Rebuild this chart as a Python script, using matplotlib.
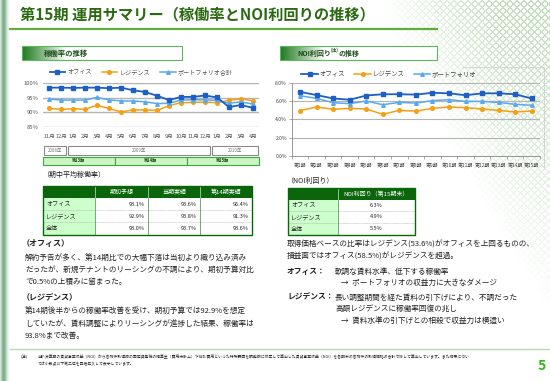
import matplotlib
matplotlib.use('Agg')
import matplotlib.pyplot as plt
import matplotlib.patches as mpatches
import matplotlib.transforms as mtransforms
import numpy as np

plt.rcParams['font.family'] = ['Noto Sans CJK JP', 'DejaVu Sans']

# ---- data ----
months = ['11月', '12月', '1月', '2月', '3月', '4月', '5月', '6月', '7月', '8月',
          '9月', '10月', '11月', '12月', '1月', '2月', '3月', '4月']
occ_office = [98.5, 98.5, 98.4, 98.5, 98.5, 98.3, 98.5, 97.6, 97.0, 95.7,
              94.2, 95.3, 95.3, 95.8, 95.1, 91.8, 92.5, 91.5]
occ_res = [91.3, 91.0, 91.2, 91.0, 92.4, 91.3, 90.1, 90.8, 90.8, 90.6,
           92.3, 93.3, 93.4, 93.5, 93.3, 94.1, 94.6, 94.0]
occ_port = [94.6, 94.2, 94.2, 94.2, 95.1, 94.3, 93.9, 93.9, 93.6, 93.0,
            93.1, 94.2, 94.3, 94.3, 94.1, 93.1, 93.6, 92.8]
years = ['2008年', '2009年', '2010年']
year_spans = [(-0.5, 1.5), (1.5, 13.5), (13.5, 17.5)]
terms = ['第13期', '第14期', '第15期']
term_spans = [(-0.5, 5.5), (5.5, 11.5), (11.5, 17.5)]

periods = ['第%d期' % i for i in range(1, 16)]
noi_office = [7.0, 6.65, 6.28, 6.14, 6.6, 6.74, 6.74, 6.7, 6.9, 6.84, 6.63, 6.84, 6.84, 6.74, 6.28]
noi_res = [4.95, 5.35, 5.1, 5.2, 5.13, 4.55, 4.98, 4.9, 5.2, 5.35, 5.27, 5.13, 4.98, 4.8, 4.9]
noi_port = [6.58, 6.29, 5.82, 5.71, 6.0, 5.6, 5.85, 5.78, 6.04, 6.15, 5.96, 5.96, 5.85, 5.64, 5.53]

row_names = ['オフィス', 'レジデンス', '全体']
occ_cols = ['期初予想', '当期実績', '第14期実績']
occ_vals = [['93.1%', '93.6%', '96.4%'],
            ['92.9%', '93.8%', '91.3%'],
            ['93.0%', '93.7%', '93.6%']]
noi_col = 'NOI利回り（第15期末）'
noi_vals = ['6.3%', '4.9%', '5.5%']

C_OFF = '#1f5fc4'
C_RES = '#f5a010'
C_PORT = '#5aa8ee'
DARKG = '#0b660b'
TXT = '#222222'

W, H = 550, 381
fig = plt.figure(figsize=(5.5, 3.81), dpi=100)
bg = fig.add_axes([0, 0, 1, 1])
bg.axis('off')


def px_axes(x0, y0, x1, y1):
    return fig.add_axes([x0 / W, 1 - y1 / H, (x1 - x0) / W, (y1 - y0) / H])


def grad(x0, y0, x1, y1, c0, c1, n=64, z=0):
    c0 = np.array(matplotlib.colors.to_rgb(c0))
    c1 = np.array(matplotlib.colors.to_rgb(c1))
    t = np.linspace(0, 1, n)[None, :, None]
    img = c0 + (c1 - c0) * t
    bg.imshow(img, extent=(x0, x1, y1, y0), aspect='auto', zorder=z, interpolation='bilinear')


# left strip
strip = np.array([[0.87, 0.78, 0.68, 0.62, 0.64, 0.72, 0.82, 0.9, 0.95, 0.98]])
dark = np.array(matplotlib.colors.to_rgb('#6fa57e'))
img = 1 - (1 - dark)[None, None, :] * (1 - strip[:, :, None]) / (1 - 0.62) * 0.9
bg.imshow(np.clip(img, 0, 1), extent=(0, 10, H, 0), aspect='auto', interpolation='bilinear', zorder=0)

# decorative lattice top right
yy, xx = np.mgrid[0:H, 0:170]
lat = ((np.abs((xx + yy) % 7 - 3.5) < 0.9) | (np.abs((xx - yy) % 7 - 3.5) < 0.9)).astype(float)
fade = np.clip(xx / 120.0, 0, 1) * np.clip(1 - yy / (30 + xx * 1.7), 0, 1)
pat = np.zeros((H, 170, 4))
pat[..., :3] = matplotlib.colors.to_rgb('#a8d4a0')
pat[..., 3] = lat * fade * 0.7
bg.imshow(pat, extent=(380, 550, H, 0), aspect='auto', zorder=0)

# title
bg.text(20, 14, '第15期 運用サマリー（稼働率とNOI利回りの推移）', fontsize=11, fontweight='bold',
        color='#2b6a13', va='center', ha='left', zorder=3)
bg.plot([10, 437], [29, 29], color='#5fae3c', lw=1.6, zorder=3)

# section headers
for (x0, x1) in [(22, 182), (280, 437)]:
    grad(x0, 46, x0 + 45, 60, '#1e7a1e', '#ffffff', z=1)
    bg.add_patch(mpatches.Rectangle((x0 + 45, 46), x1 - x0 - 45, 14, fc='white', ec='none', zorder=1))
    bg.add_patch(mpatches.Rectangle((x0, 46), x1 - x0, 14, fc='none', ec='#5cb85c', lw=0.8, zorder=2))
bg.text(44, 53, '稼働率の推移', fontsize=5.3, fontweight='bold', color='#1d4f1d', va='center', zorder=3)
bg.text(297, 53, 'NOI利回り', fontsize=5.0, fontweight='bold', color='#1d4f1d', va='center', zorder=3)
bg.text(330.5, 50.5, '(注)', fontsize=3.3, fontweight='bold', color='#1d4f1d', va='center', zorder=3)
bg.text(339, 53, 'の推移', fontsize=5.0, fontweight='bold', color='#1d4f1d', va='center', zorder=3)

# ---- left chart: occupancy ----
axL = px_axes(43, 83.3, 259, 126.7)
axL.patch.set_alpha(0)
xi = np.arange(len(months))
axL.plot(xi, occ_office, color=C_OFF, marker='s', ms=3.0, lw=1.3, label='オフィス', zorder=4)
axL.plot(xi, occ_res, color=C_RES, marker='o', ms=2.6, lw=1.1, label='レジデンス', zorder=3)
axL.plot(xi, occ_port, color=C_PORT, marker='^', ms=2.6, lw=1.1, label='ポートフォリオ合計', zorder=3)
axL.set_xlim(-0.5, 17.5)
axL.set_ylim(85, 100)
axL.set_yticks([85, 90, 95, 100])
axL.set_yticklabels(['85%', '90%', '95%', '100%'])
axL.set_xticks(xi)
axL.set_xticklabels(months)
axL.grid(axis='y', color='#b4b4b4', lw=1.0)
axL.set_axisbelow(True)
for s in axL.spines.values():
    s.set_visible(False)
axL.tick_params(axis='y', length=0, pad=3.5, labelsize=4.2, labelcolor='#555555')
axL.tick_params(axis='x', length=0, pad=5.5, labelsize=4.0, labelcolor='#555555')
axL.legend(ncol=3, loc='center', bbox_to_anchor=(141, 72), bbox_transform=bg.transData,
           frameon=False, fontsize=4.4, handlelength=2.6, handletextpad=0.3, columnspacing=1.6,
           labelcolor='#555555')

# year / term boxes under the month axis
tr = mtransforms.blended_transform_factory(axL.transData, bg.transData)
for lab, (a, b) in zip(years, year_spans):
    bg.add_patch(mpatches.Rectangle((a + 0.06, 146), b - a - 0.12, 8.5, transform=tr, fc='white',
                                    ec='#8a8a8a', lw=0.8, clip_on=False, zorder=3))
    bg.text((a + b) / 2, 150.3, lab, transform=tr, fontsize=3.2, color='#777777',
            ha='center', va='center', zorder=4)
for lab, (a, b) in zip(terms, term_spans):
    bg.add_patch(mpatches.Rectangle((a + 0.03, 156.5), b - a - 0.06, 8, transform=tr, fc='#ccf5c4',
                                    ec='#3da83d', lw=0.8, clip_on=False, zorder=3))
    bg.text((a + b) / 2, 160.5, lab, transform=tr, fontsize=3.0, color='#1d4f1d', fontweight='bold',
            ha='center', va='center', zorder=4)

# ---- right chart: NOI yield ----
axR = px_axes(291.7, 82.7, 540, 156)
axR.patch.set_alpha(0)
xp = np.arange(len(periods))
axR.plot(xp, noi_office, color=C_OFF, marker='s', ms=3.0, lw=1.3, label='オフィス', zorder=4)
axR.plot(xp, noi_res, color=C_RES, marker='o', ms=2.6, lw=1.1, label='レジデンス', zorder=3)
axR.plot(xp, noi_port, color=C_PORT, marker='^', ms=2.6, lw=1.1, label='ポートフォリオ', zorder=3)
axR.set_xlim(-0.5, 14.5)
axR.set_ylim(0, 8)
axR.set_yticks([0, 2, 4, 6, 8])
axR.set_yticklabels(['0.0%', '2.0%', '4.0%', '6.0%', '8.0%'])
axR.set_xticks(xp)
axR.set_xticklabels(periods)
axR.set_xticks(np.arange(-0.5, 15, 1), minor=True)
axR.grid(axis='y', color='#b4b4b4', lw=0.8)
axR.set_axisbelow(True)
axR.spines['top'].set_visible(False)
axR.spines['right'].set_visible(False)
axR.spines['left'].set_color('#888888')
axR.spines['bottom'].set_color('#888888')
axR.spines['left'].set_linewidth(0.6)
axR.spines['bottom'].set_linewidth(0.6)
axR.tick_params(axis='y', length=2, width=0.5, color='#888888', pad=1.5, labelsize=3.6, labelcolor='#444444')
axR.tick_params(axis='x', which='major', length=0, pad=5.0, labelsize=3.5, labelcolor='#444444')
axR.tick_params(axis='x', which='minor', length=2, width=0.5, color='#888888')
axR.legend(ncol=3, loc='center', bbox_to_anchor=(389, 74), bbox_transform=bg.transData,
           frameon=False, fontsize=4.6, handlelength=2.6, handletextpad=0.3, columnspacing=1.4,
           labelcolor='#444444')
bg.plot([462, 544, 544], [67, 67, 168], color='#d0d0d0', lw=0.6, zorder=1)


# ---- tables ----
def draw_table(xe, ye, header, names, vals, align):
    bg.add_patch(mpatches.Rectangle((xe[0], ye[0]), xe[-1] - xe[0], ye[1] - ye[0], fc=DARKG, ec='none', zorder=2))
    for j, h in enumerate(header):
        bg.text((xe[j + 1] + xe[j + 2]) / 2, (ye[0] + ye[1]) / 2, h, fontsize=4.3, color='white',
                ha='center', va='center', zorder=4)
        bg.plot([xe[j + 1], xe[j + 1]], [ye[0], ye[1]], color='white', lw=0.4, zorder=3)
    for i, nm in enumerate(names):
        y0, y1 = ye[i + 1], ye[i + 2]
        bg.add_patch(mpatches.Rectangle((xe[0], y0), xe[1] - xe[0], y1 - y0, fc='#ccffcc', ec='none', zorder=2))
        bg.text(xe[0] + 3, (y0 + y1) / 2, nm, fontsize=4.4, color=TXT, va='center', zorder=4)
        for j, v in enumerate(vals[i]):
            if align == 'right':
                bg.text(xe[j + 2] - 3, (y0 + y1) / 2, v, fontsize=4.0, color=TXT, ha='right', va='center', zorder=4)
            else:
                bg.text((xe[j + 1] + xe[j + 2]) / 2, (y0 + y1) / 2, v, fontsize=4.0, color=TXT,
                        ha='center', va='center', zorder=4)
        if i > 0:
            bg.plot([xe[0], xe[-1]], [y0, y0], color='#999999', lw=0.4, ls=(0, (1, 1)), zorder=3)
    for x in xe[1:-1]:
        bg.plot([x, x], [ye[1], ye[-1]], color='#3a8a3a', lw=0.5, zorder=3)
    bg.add_patch(mpatches.Rectangle((xe[0], ye[0]), xe[-1] - xe[0], ye[-1] - ye[0], fc='none',
                                    ec=DARKG, lw=1.0, zorder=4))


bg.text(42, 175, '（期中平均稼働率）', fontsize=5.0, color=TXT, va='center')
draw_table([43, 95, 148, 200, 252], [186, 198, 210, 222, 235], occ_cols, row_names, occ_vals, 'right')
bg.text(286, 181.5, '（NOI利回り）', fontsize=5.0, color=TXT, va='center')
draw_table([288, 338, 415], [188, 199.5, 211, 223, 235], [noi_col], row_names,
           [[v] for v in noi_vals], 'center')

# ---- commentary ----
bg.text(22, 243.5, '（オフィス）', fontsize=5.8, fontweight='bold', color=TXT, va='center')
for y, s in [(258, '解約予告が多く、第14期比での大幅下落は当初より織り込み済み'),
             (270, 'だったが、新規テナントのリーシングの不調により、期初予算対比'),
             (282, 'で0.5%の上積みに留まった。')]:
    bg.text(25, y, s, fontsize=5.5, color=TXT, va='center')
bg.text(22, 297.5, '（レジデンス）', fontsize=5.8, fontweight='bold', color=TXT, va='center')
for y, s in [(312, '第14期後半からの稼働率改善を受け、期初予算では92.9%を想定'),
             (324, 'していたが、賃料調整によりリーシングが進捗した結果、稼働率は'),
             (336, '93.8%まで改善。')]:
    bg.text(25, y, s, fontsize=5.5, color=TXT, va='center')

bg.text(287, 244.5, '取得価格ベースの比率はレジデンス(53.6%)がオフィスを上回るものの、', fontsize=5.5, color=TXT, va='center')
bg.text(287, 256.5, '損益面ではオフィス(58.5%)がレジデンスを超過。', fontsize=5.5, color=TXT, va='center')
bg.text(287, 271.5, 'オフィス：', fontsize=5.6, fontweight='bold', color=TXT, va='center')
bg.text(335, 271.5, '軟調な賃料水準、低下する稼働率', fontsize=5.5, color=TXT, va='center')
bg.text(341, 283, '→  ポートフォリオの収益力に大きなダメージ', fontsize=5.5, color=TXT, va='center')
bg.text(287, 297.5, 'レジデンス：', fontsize=5.6, fontweight='bold', color=TXT, va='center')
bg.text(335, 297.5, '長い調整期間を経た賃料の引下げにより、不調だった', fontsize=5.5, color=TXT, va='center')
bg.text(335, 309, '高額レジデンスに稼働率回復の兆し', fontsize=5.5, color=TXT, va='center')
bg.text(341, 320.5, '→  賃料水準の引下げとの相殺で収益力は横這い', fontsize=5.5, color=TXT, va='center')

# ---- footer ----
bg.plot([10, 550], [349, 349], color='#b5dcae', lw=1.0)
bg.text(21, 357, '(注)', fontsize=3.0, color=TXT, va='center')
bg.text(38, 357, '当該決算期の賃貸事業収益（NOI）から各物件取得時の固定資産税の精算金（費用未計上）や前払費用といった特殊要因を調整額に修正して算出した'
        '賃貸事業収益（NOI）を各期末の各物件の取得価格の合計で除して算出しています。また結果につい',
        fontsize=2.75, color=TXT, va='center')
bg.text(38, 363.5, 'ては小数点以下第二位を四捨五入して表示しています。', fontsize=2.75, color=TXT, va='center')
bg.text(538, 366, '5', fontsize=10, fontweight='bold', color='#33b81a', va='center', ha='left')

bg.set_xlim(0, W)
bg.set_ylim(H, 0)
fig.savefig('out.png', dpi=100)
